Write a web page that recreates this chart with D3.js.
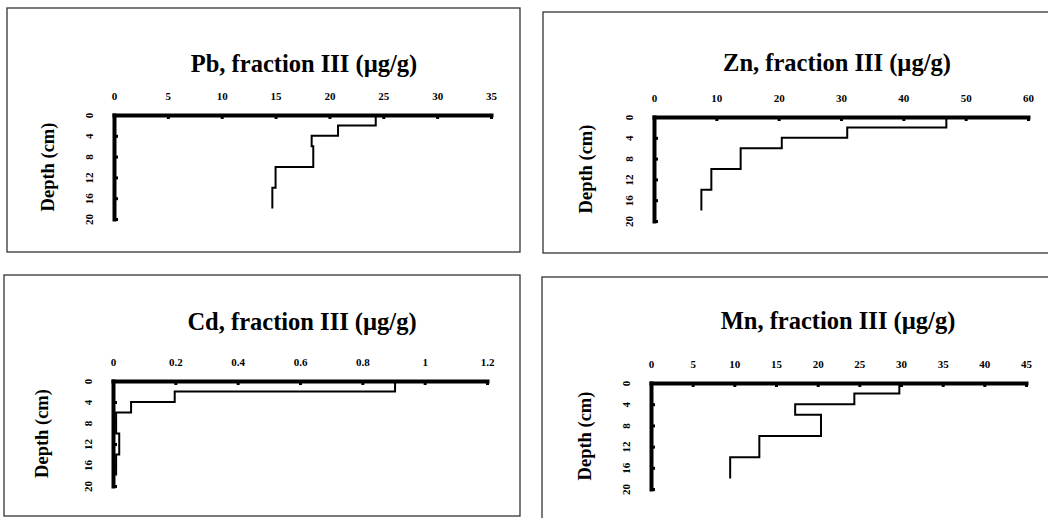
<!DOCTYPE html>
<html><head><meta charset="utf-8">
<script src="https://cdn.jsdelivr.net/npm/d3@7"></script>
<style>body{margin:0;background:#fff}svg{display:block}</style>
</head><body>
<svg id="c" width="1048" height="518"></svg>
<script>
const depthBounds = [0, 2, 4, 6, 10, 14, 18];
const depthTicks = [0, 4, 8, 12, 16, 20];
const titles = ["Pb, fraction III (\u00b5g/g)", "Zn, fraction III (\u00b5g/g)", "Cd, fraction III (\u00b5g/g)", "Mn, fraction III (\u00b5g/g)"];
const pbValues = [24.3, 20.8, 18.35, 18.5, 15.0, 14.7];
const znValues = [46.9, 31.0, 20.5, 13.9, 9.2, 7.6];
const cdValues = [0.905, 0.198, 0.058, 0.01, 0.02, 0.01];
const mnValues = [29.8, 24.4, 17.3, 20.4, 13.0, 9.5];
const pbTicks = [0, 5, 10, 15, 20, 25, 30, 35];
const znTicks = [0, 10, 20, 30, 40, 50, 60];
const cdTicks = [0, 0.2, 0.4, 0.6, 0.8, 1, 1.2];
const mnTicks = [0, 5, 10, 15, 20, 25, 30, 35, 40, 45];

const panels = [
  {title: titles[0], values: pbValues, ticks: pbTicks, box: [7, 8, 520, 252], x0: 114, x1: 491, y0: 115, y1: 219, tx: 304, ty: 63, dx: 48},
  {title: titles[1], values: znValues, ticks: znTicks, box: [543, 12, 1052, 253], x0: 654, x1: 1028, y0: 117, y1: 221, tx: 837, ty: 62, dx: 586},
  {title: titles[2], values: cdValues, ticks: cdTicks, box: [4, 275, 520, 516], x0: 113, x1: 487, y0: 381, y1: 486, tx: 302, ty: 321, dx: 42},
  {title: titles[3], values: mnValues, ticks: mnTicks, box: [542, 277, 1052, 522], x0: 651, x1: 1026, y0: 383, y1: 489, tx: 838, ty: 320, dx: 585}
];

const svg = d3.select("#c");
const serif = "'Liberation Serif','Times New Roman',serif";

panels.forEach(p => {
  const [bx0, by0, bx1, by1] = p.box;
  svg.append("rect").attr("x", bx0).attr("y", by0).attr("width", bx1 - bx0).attr("height", by1 - by0)
    .attr("fill", "none").attr("stroke", "#333").attr("stroke-width", 1.3);

  const x = d3.scaleLinear().domain([0, d3.max(p.ticks)]).range([p.x0, p.x1]);
  const y = d3.scaleLinear().domain([0, 20]).range([p.y0, p.y1]);

  svg.append("text").attr("x", p.tx).attr("y", p.ty).attr("text-anchor", "middle").attr("dy", "0.35em")
    .attr("font-family", serif).attr("font-weight", "bold").attr("font-size", 24.5).text(p.title);

  svg.append("text").attr("transform", `translate(${p.dx},${(p.y0 + p.y1) / 2}) rotate(-90)`)
    .attr("text-anchor", "middle").attr("dy", "0.35em")
    .attr("font-family", serif).attr("font-weight", "bold").attr("font-size", 18.5).text("Depth (cm)");

  // step profile
  const pts = [];
  p.values.forEach((v, i) => { pts.push([v, depthBounds[i]]); pts.push([v, depthBounds[i + 1]]); });
  svg.append("path").datum(pts)
    .attr("d", d3.line().x(d => x(d[0])).y(d => y(d[1])))
    .attr("fill", "none").attr("stroke", "#000").attr("stroke-width", 2);

  const gx = svg.append("g").attr("transform", `translate(0,${p.y0})`)
    .call(d3.axisTop(x).tickValues(p.ticks).tickSizeInner(-4).tickSizeOuter(0).tickPadding(15)
      .tickFormat(d => d3.format("~g")(d)));
  const gy = svg.append("g").attr("transform", `translate(${p.x0},0)`)
    .call(d3.axisLeft(y).tickValues(depthTicks).tickSizeInner(-4).tickSizeOuter(0).tickPadding(0));

  [gx, gy].forEach(g => {
    g.select(".domain").attr("stroke", "#000").attr("stroke-width", 4).attr("stroke-linecap", "square");
    g.selectAll(".tick line").attr("stroke", "#000").attr("stroke-width", 3);
    g.selectAll("text").attr("font-family", serif).attr("font-weight", "bold").attr("font-size", 11).attr("fill", "#000");
  });
  gy.selectAll(".tick text").attr("x", null).attr("dy", "0.35em").attr("text-anchor", "middle")
    .attr("transform", "translate(-25,0) rotate(-90)");
});
</script>
</body></html>
